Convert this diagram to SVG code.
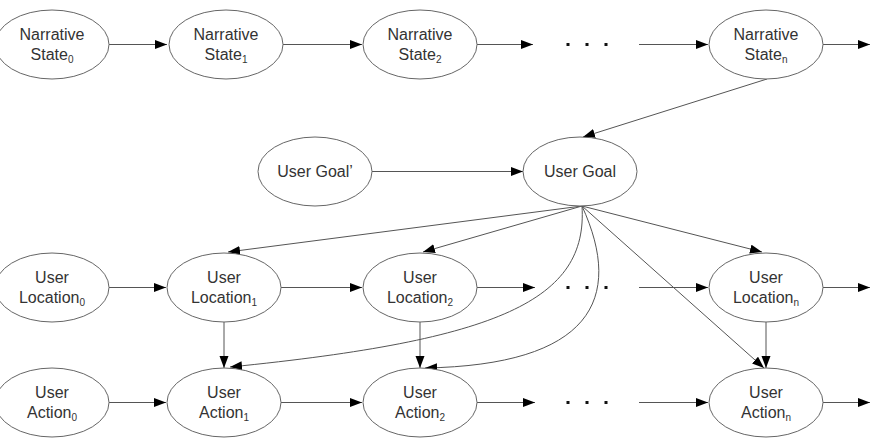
<svg xmlns="http://www.w3.org/2000/svg" width="872" height="448" viewBox="0 0 872 448">
<defs>
<marker id="ah" markerUnits="userSpaceOnUse" markerWidth="13" markerHeight="10" refX="12" refY="4.5" orient="auto">
<path d="M0,0 L12,4.5 L0,9 z" fill="#000"/>
</marker>
<style>
.n ellipse{fill:#fff;stroke:#666;stroke-width:1}
.n text{font-family:"Liberation Sans",Arial,sans-serif;font-size:16px;fill:#333;text-anchor:middle}
.n tspan.s{font-size:10px}
#edges path{fill:none;stroke:#555;stroke-width:1;marker-end:url(#ah)}
.dot{fill:#111}
</style>
</defs>
<rect width="872" height="448" fill="#fff"/>
<g id="edges">
<path d="M109,44.5 H167"/>
<path d="M283,44.5 H362"/>
<path d="M477,44.5 H533"/>
<path d="M639,44.5 H708"/>
<path d="M823,44.5 H870"/>
<path d="M767,79 L583,137"/>
<path d="M372,171.5 H523"/>
<path d="M582,206 L228,252"/>
<path d="M582,206 L423,252"/>
<path d="M582,206 L762,252"/>
<path d="M582,206 L764,368"/>
<path d="M582,206 C588,300 500,340 230,367"/>
<path d="M582,206 C625,300 590,365 425,368"/>
<path d="M109,287.5 H166"/>
<path d="M281,287.5 H362"/>
<path d="M477,287.5 H535"/>
<path d="M639,287.5 H708"/>
<path d="M823,287.5 H870"/>
<path d="M224,321.5 V368"/>
<path d="M420,321.5 V368"/>
<path d="M766,321.5 V368"/>
<path d="M109,402.5 H166"/>
<path d="M281,402.5 H362"/>
<path d="M477,402.5 H535"/>
<path d="M639,402.5 H708"/>
<path d="M823,402.5 H870"/>
</g>
<g id="dots">
<rect class="dot" x="566.5" y="43" width="3" height="3"/><rect class="dot" x="585.5" y="43" width="3" height="3"/><rect class="dot" x="604.5" y="43" width="3" height="3"/>
<rect class="dot" x="566.5" y="286" width="3" height="3"/><rect class="dot" x="585.5" y="286" width="3" height="3"/><rect class="dot" x="604.5" y="286" width="3" height="3"/>
<rect class="dot" x="566.5" y="401" width="3" height="3"/><rect class="dot" x="585.5" y="401" width="3" height="3"/><rect class="dot" x="604.5" y="401" width="3" height="3"/>
</g>
<g id="ns0" class="n"><ellipse cx="52" cy="44.5" rx="57" ry="34.5"/><text x="52" y="40">Narrative</text><text x="52" y="60">State<tspan class="s" dy="3">0</tspan></text></g>
<g id="ns1" class="n"><ellipse cx="226" cy="44.5" rx="57" ry="34.5"/><text x="226" y="40">Narrative</text><text x="226" y="60">State<tspan class="s" dy="3">1</tspan></text></g>
<g id="ns2" class="n"><ellipse cx="420" cy="44.5" rx="57" ry="34.5"/><text x="420" y="40">Narrative</text><text x="420" y="60">State<tspan class="s" dy="3">2</tspan></text></g>
<g id="nsn" class="n"><ellipse cx="766" cy="44.5" rx="57" ry="34.5"/><text x="766" y="40">Narrative</text><text x="766" y="60">State<tspan class="s" dy="3">n</tspan></text></g>
<g id="goalp" class="n"><ellipse cx="315" cy="171.5" rx="57" ry="34.5"/><text x="315" y="177">User Goal’</text></g>
<g id="goal" class="n"><ellipse cx="580" cy="171.5" rx="57" ry="34.5"/><text x="580" y="177">User Goal</text></g>
<g id="loc0" class="n"><ellipse cx="52" cy="287.5" rx="57" ry="34.5"/><text x="52" y="283">User</text><text x="52" y="303">Location<tspan class="s" dy="3">0</tspan></text></g>
<g id="loc1" class="n"><ellipse cx="224" cy="287.5" rx="57" ry="34.5"/><text x="224" y="283">User</text><text x="224" y="303">Location<tspan class="s" dy="3">1</tspan></text></g>
<g id="loc2" class="n"><ellipse cx="420" cy="287.5" rx="57" ry="34.5"/><text x="420" y="283">User</text><text x="420" y="303">Location<tspan class="s" dy="3">2</tspan></text></g>
<g id="locn" class="n"><ellipse cx="766" cy="287.5" rx="57" ry="34.5"/><text x="766" y="283">User</text><text x="766" y="303">Location<tspan class="s" dy="3">n</tspan></text></g>
<g id="act0" class="n"><ellipse cx="52" cy="402.5" rx="57" ry="34.5"/><text x="52" y="398">User</text><text x="52" y="418">Action<tspan class="s" dy="3">0</tspan></text></g>
<g id="act1" class="n"><ellipse cx="224" cy="402.5" rx="57" ry="34.5"/><text x="224" y="398">User</text><text x="224" y="418">Action<tspan class="s" dy="3">1</tspan></text></g>
<g id="act2" class="n"><ellipse cx="420" cy="402.5" rx="57" ry="34.5"/><text x="420" y="398">User</text><text x="420" y="418">Action<tspan class="s" dy="3">2</tspan></text></g>
<g id="actn" class="n"><ellipse cx="766" cy="402.5" rx="57" ry="34.5"/><text x="766" y="398">User</text><text x="766" y="418">Action<tspan class="s" dy="3">n</tspan></text></g>
</svg>
